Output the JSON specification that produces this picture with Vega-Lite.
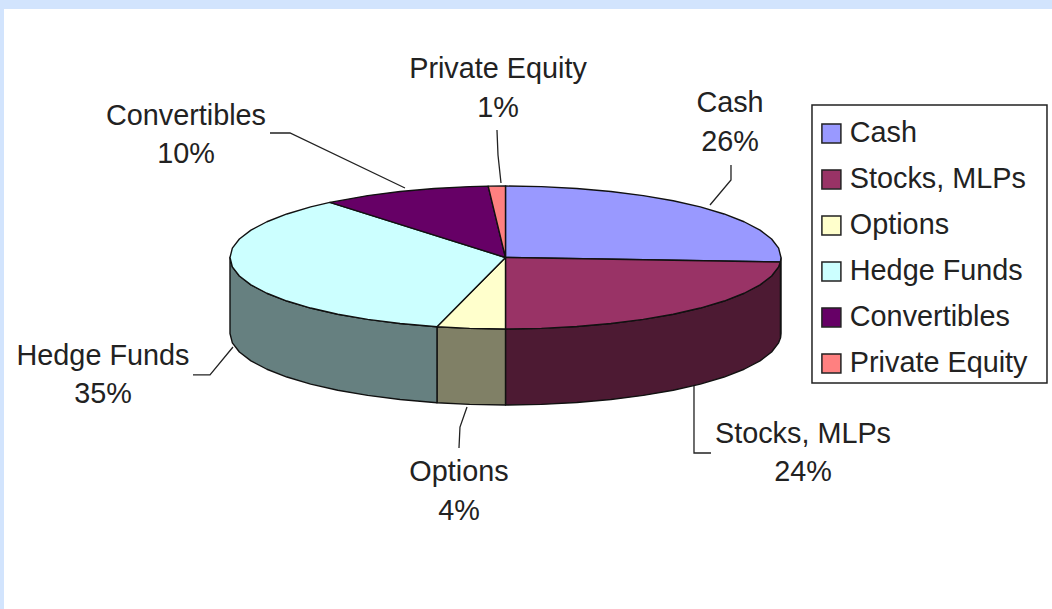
{"$schema":"https://vega.github.io/schema/vega-lite/v6.json","width":1048,"height":600,"autosize":"none","padding":{"left":4,"top":9,"right":0,"bottom":0},"background":"#d2e4fd","view":{"fill":"white","stroke":null},"config":{"font":"Liberation Sans"},
"datasets":{
"tops":[
{"slice":"Cash","i":0,"u":0,"v":0},{"slice":"Cash","i":1,"u":0,"v":1},{"slice":"Cash","i":2,"u":0.1305,"v":0.9914},{"slice":"Cash","i":3,"u":0.2588,"v":0.9659},{"slice":"Cash","i":4,"u":0.3827,"v":0.9239},{"slice":"Cash","i":5,"u":0.5,"v":0.866},{"slice":"Cash","i":6,"u":0.6088,"v":0.7934},{"slice":"Cash","i":7,"u":0.7071,"v":0.7071},{"slice":"Cash","i":8,"u":0.7934,"v":0.6088},{"slice":"Cash","i":9,"u":0.866,"v":0.5},{"slice":"Cash","i":10,"u":0.9239,"v":0.3827},{"slice":"Cash","i":11,"u":0.9659,"v":0.2588},{"slice":"Cash","i":12,"u":0.9914,"v":0.1305},{"slice":"Cash","i":13,"u":1,"v":0},{"slice":"Cash","i":14,"u":0.998,"v":-0.0628},{"slice":"Cash","i":15,"u":0,"v":0},
{"slice":"Stocks, MLPs","i":0,"u":0,"v":0},{"slice":"Stocks, MLPs","i":1,"u":0.998,"v":-0.0628},{"slice":"Stocks, MLPs","i":2,"u":0.9914,"v":-0.1305},{"slice":"Stocks, MLPs","i":3,"u":0.9659,"v":-0.2588},{"slice":"Stocks, MLPs","i":4,"u":0.9239,"v":-0.3827},{"slice":"Stocks, MLPs","i":5,"u":0.866,"v":-0.5},{"slice":"Stocks, MLPs","i":6,"u":0.7934,"v":-0.6088},{"slice":"Stocks, MLPs","i":7,"u":0.7071,"v":-0.7071},{"slice":"Stocks, MLPs","i":8,"u":0.6088,"v":-0.7934},{"slice":"Stocks, MLPs","i":9,"u":0.5,"v":-0.866},{"slice":"Stocks, MLPs","i":10,"u":0.3827,"v":-0.9239},{"slice":"Stocks, MLPs","i":11,"u":0.2588,"v":-0.9659},{"slice":"Stocks, MLPs","i":12,"u":0.1305,"v":-0.9914},{"slice":"Stocks, MLPs","i":13,"u":0,"v":-1},{"slice":"Stocks, MLPs","i":14,"u":0,"v":0},
{"slice":"Options","i":0,"u":0,"v":0},{"slice":"Options","i":1,"u":0,"v":-1},{"slice":"Options","i":2,"u":-0.1305,"v":-0.9914},{"slice":"Options","i":3,"u":-0.2487,"v":-0.9686},{"slice":"Options","i":4,"u":0,"v":0},
{"slice":"Hedge Funds","i":0,"u":0,"v":0},{"slice":"Hedge Funds","i":1,"u":-0.2487,"v":-0.9686},{"slice":"Hedge Funds","i":2,"u":-0.3827,"v":-0.9239},{"slice":"Hedge Funds","i":3,"u":-0.5,"v":-0.866},{"slice":"Hedge Funds","i":4,"u":-0.6088,"v":-0.7934},{"slice":"Hedge Funds","i":5,"u":-0.7071,"v":-0.7071},{"slice":"Hedge Funds","i":6,"u":-0.7934,"v":-0.6088},{"slice":"Hedge Funds","i":7,"u":-0.866,"v":-0.5},{"slice":"Hedge Funds","i":8,"u":-0.9239,"v":-0.3827},{"slice":"Hedge Funds","i":9,"u":-0.9659,"v":-0.2588},{"slice":"Hedge Funds","i":10,"u":-0.9914,"v":-0.1305},{"slice":"Hedge Funds","i":11,"u":-1,"v":0},{"slice":"Hedge Funds","i":12,"u":-0.9914,"v":0.1305},{"slice":"Hedge Funds","i":13,"u":-0.9659,"v":0.2588},{"slice":"Hedge Funds","i":14,"u":-0.9239,"v":0.3827},{"slice":"Hedge Funds","i":15,"u":-0.866,"v":0.5},{"slice":"Hedge Funds","i":16,"u":-0.7934,"v":0.6088},{"slice":"Hedge Funds","i":17,"u":-0.7071,"v":0.7071},{"slice":"Hedge Funds","i":18,"u":-0.6374,"v":0.7705},{"slice":"Hedge Funds","i":19,"u":0,"v":0},
{"slice":"Convertibles","i":0,"u":0,"v":0},{"slice":"Convertibles","i":1,"u":-0.6374,"v":0.7705},{"slice":"Convertibles","i":2,"u":-0.5,"v":0.866},{"slice":"Convertibles","i":3,"u":-0.3827,"v":0.9239},{"slice":"Convertibles","i":4,"u":-0.2588,"v":0.9659},{"slice":"Convertibles","i":5,"u":-0.1305,"v":0.9914},{"slice":"Convertibles","i":6,"u":-0.0628,"v":0.998},{"slice":"Convertibles","i":7,"u":0,"v":0},
{"slice":"Private Equity","i":0,"u":0,"v":0},{"slice":"Private Equity","i":1,"u":-0.0628,"v":0.998},{"slice":"Private Equity","i":2,"u":0,"v":1},{"slice":"Private Equity","i":3,"u":0,"v":0}
],
"sides":[
{"slice":"Cash","i":0,"u":1,"v":0},{"slice":"Cash","i":1,"u":0.998,"v":-0.0628},{"slice":"Cash","i":2,"u":0.998,"v":-1.1258},{"slice":"Cash","i":3,"u":1,"v":-1.063},{"slice":"Cash","i":4,"u":1,"v":0},
{"slice":"Stocks, MLPs","i":0,"u":0.998,"v":-0.0628},{"slice":"Stocks, MLPs","i":1,"u":0.9914,"v":-0.1305},{"slice":"Stocks, MLPs","i":2,"u":0.9659,"v":-0.2588},{"slice":"Stocks, MLPs","i":3,"u":0.9239,"v":-0.3827},{"slice":"Stocks, MLPs","i":4,"u":0.866,"v":-0.5},{"slice":"Stocks, MLPs","i":5,"u":0.7934,"v":-0.6088},{"slice":"Stocks, MLPs","i":6,"u":0.7071,"v":-0.7071},{"slice":"Stocks, MLPs","i":7,"u":0.6088,"v":-0.7934},{"slice":"Stocks, MLPs","i":8,"u":0.5,"v":-0.866},{"slice":"Stocks, MLPs","i":9,"u":0.3827,"v":-0.9239},{"slice":"Stocks, MLPs","i":10,"u":0.2588,"v":-0.9659},{"slice":"Stocks, MLPs","i":11,"u":0.1305,"v":-0.9914},{"slice":"Stocks, MLPs","i":12,"u":0,"v":-1},{"slice":"Stocks, MLPs","i":13,"u":0,"v":-2.063},{"slice":"Stocks, MLPs","i":14,"u":0.1305,"v":-2.0544},{"slice":"Stocks, MLPs","i":15,"u":0.2588,"v":-2.0289},{"slice":"Stocks, MLPs","i":16,"u":0.3827,"v":-1.9869},{"slice":"Stocks, MLPs","i":17,"u":0.5,"v":-1.929},{"slice":"Stocks, MLPs","i":18,"u":0.6088,"v":-1.8564},{"slice":"Stocks, MLPs","i":19,"u":0.7071,"v":-1.7701},{"slice":"Stocks, MLPs","i":20,"u":0.7934,"v":-1.6718},{"slice":"Stocks, MLPs","i":21,"u":0.866,"v":-1.563},{"slice":"Stocks, MLPs","i":22,"u":0.9239,"v":-1.4457},{"slice":"Stocks, MLPs","i":23,"u":0.9659,"v":-1.3218},{"slice":"Stocks, MLPs","i":24,"u":0.9914,"v":-1.1935},{"slice":"Stocks, MLPs","i":25,"u":0.998,"v":-1.1258},{"slice":"Stocks, MLPs","i":26,"u":0.998,"v":-0.0628},
{"slice":"Options","i":0,"u":0,"v":-1},{"slice":"Options","i":1,"u":-0.1305,"v":-0.9914},{"slice":"Options","i":2,"u":-0.2487,"v":-0.9686},{"slice":"Options","i":3,"u":-0.2487,"v":-2.0316},{"slice":"Options","i":4,"u":-0.1305,"v":-2.0544},{"slice":"Options","i":5,"u":0,"v":-2.063},{"slice":"Options","i":6,"u":0,"v":-1},
{"slice":"Hedge Funds","i":0,"u":-0.2487,"v":-0.9686},{"slice":"Hedge Funds","i":1,"u":-0.3827,"v":-0.9239},{"slice":"Hedge Funds","i":2,"u":-0.5,"v":-0.866},{"slice":"Hedge Funds","i":3,"u":-0.6088,"v":-0.7934},{"slice":"Hedge Funds","i":4,"u":-0.7071,"v":-0.7071},{"slice":"Hedge Funds","i":5,"u":-0.7934,"v":-0.6088},{"slice":"Hedge Funds","i":6,"u":-0.866,"v":-0.5},{"slice":"Hedge Funds","i":7,"u":-0.9239,"v":-0.3827},{"slice":"Hedge Funds","i":8,"u":-0.9659,"v":-0.2588},{"slice":"Hedge Funds","i":9,"u":-0.9914,"v":-0.1305},{"slice":"Hedge Funds","i":10,"u":-1,"v":0},{"slice":"Hedge Funds","i":11,"u":-1,"v":-1.063},{"slice":"Hedge Funds","i":12,"u":-0.9914,"v":-1.1935},{"slice":"Hedge Funds","i":13,"u":-0.9659,"v":-1.3218},{"slice":"Hedge Funds","i":14,"u":-0.9239,"v":-1.4457},{"slice":"Hedge Funds","i":15,"u":-0.866,"v":-1.563},{"slice":"Hedge Funds","i":16,"u":-0.7934,"v":-1.6718},{"slice":"Hedge Funds","i":17,"u":-0.7071,"v":-1.7701},{"slice":"Hedge Funds","i":18,"u":-0.6088,"v":-1.8564},{"slice":"Hedge Funds","i":19,"u":-0.5,"v":-1.929},{"slice":"Hedge Funds","i":20,"u":-0.3827,"v":-1.9869},{"slice":"Hedge Funds","i":21,"u":-0.2487,"v":-2.0316},{"slice":"Hedge Funds","i":22,"u":-0.2487,"v":-0.9686}
],
"leaders":[
{"slice":"Private Equity","i":0,"u":-0.0309,"v":1.783},{"slice":"Private Equity","i":1,"u":-0.0272,"v":1.434},{"slice":"Private Equity","i":2,"u":-0.0163,"v":1.042},
{"slice":"Cash","i":0,"u":0.8185,"v":1.294},{"slice":"Cash","i":1,"u":0.8185,"v":1.084},{"slice":"Cash","i":2,"u":0.7423,"v":0.734},
{"slice":"Convertibles","i":0,"u":-0.8548,"v":1.741},{"slice":"Convertibles","i":1,"u":-0.7822,"v":1.741},{"slice":"Convertibles","i":2,"u":-0.3648,"v":0.972},
{"slice":"Hedge Funds","i":0,"u":-1.1343,"v":-1.643},{"slice":"Hedge Funds","i":1,"u":-1.0726,"v":-1.643},{"slice":"Hedge Funds","i":2,"u":-0.9891,"v":-1.252},
{"slice":"Options","i":0,"u":-0.1688,"v":-2.664},{"slice":"Options","i":1,"u":-0.1652,"v":-2.371},{"slice":"Options","i":2,"u":-0.1397,"v":-2.091},
{"slice":"Stocks, MLPs","i":0,"u":0.7459,"v":-2.734},{"slice":"Stocks, MLPs","i":1,"u":0.6842,"v":-2.734},{"slice":"Stocks, MLPs","i":2,"u":0.6842,"v":-1.797}
],
"labels":[
{"slice":"Cash","share":26,"label":"Cash\n26%","u":0.8149,"v":2.157},
{"slice":"Stocks, MLPs","share":24,"label":"Stocks, MLPs\n24%","u":1.0799,"v":-2.465},
{"slice":"Options","share":4,"label":"Options\n4%","u":-0.1688,"v":-3.004},
{"slice":"Hedge Funds","share":35,"label":"Hedge Funds\n35%","u":-1.461,"v":-1.374},
{"slice":"Convertibles","share":10,"label":"Convertibles\n10%","u":-1.1597,"v":1.982},
{"slice":"Private Equity","share":1,"label":"Private Equity\n1%","u":-0.0272,"v":2.633}
],
"legendFrame":[{"u":1.1125,"u2":1.9655,"v":2.1329,"v2":-1.7552}]
},
"encoding":{
"x":{"field":"u","type":"quantitative","axis":null,"scale":{"domain":[-1.8203,1.9837],"nice":false,"zero":false}},
"y":{"field":"v","type":"quantitative","axis":null,"scale":{"domain":[-4.9161,3.4755],"nice":false,"zero":false}}},
"layer":[
{"data":{"name":"legendFrame"},"mark":{"type":"rect","fill":"white","stroke":"#222222","strokeWidth":1.5},
"encoding":{"x2":{"field":"u2"},"y2":{"field":"v2"}}},
{"data":{"name":"sides"},"mark":{"type":"line","stroke":"#111111","strokeWidth":1.4,"strokeJoin":"round"},
"encoding":{"order":{"field":"i","type":"quantitative"},"detail":{"field":"slice"},
"fill":{"field":"slice","type":"nominal","legend":null,"scale":{"domain":["Cash","Stocks, MLPs","Options","Hedge Funds"],"range":["#4d4d80","#4d1a33","#808066","#668080"]}}}},
{"data":{"name":"tops"},"mark":{"type":"line","stroke":"#111111","strokeWidth":1.4,"strokeJoin":"round"},
"encoding":{"order":{"field":"i","type":"quantitative"},"detail":{"field":"slice"},
"fill":{"field":"slice","type":"nominal","sort":null,"scale":{"domain":["Cash","Stocks, MLPs","Options","Hedge Funds","Convertibles","Private Equity"],"range":["#9999ff","#993366","#ffffcc","#ccffff","#660066","#ff8080"]},
"legend":{"title":null,"orient":"none","legendX":808,"legendY":105,"padding":5,"zindex":1,"symbolType":"square","symbolSize":361,"symbolStrokeColor":"#222222","symbolStrokeWidth":1.5,"labelFont":"Liberation Sans","labelFontSize":28.8,"labelColor":"#222222","labelOffset":4,"rowPadding":16,"labelLimit":300}}}},
{"data":{"name":"leaders"},"mark":{"type":"line","stroke":"#222222","strokeWidth":1.3},
"encoding":{"order":{"field":"i","type":"quantitative"},"detail":{"field":"slice"}}},
{"data":{"name":"labels"},"mark":{"type":"text","font":"Liberation Sans","fontSize":28.8,"lineHeight":38.5,"lineBreak":"\n","color":"#222222","align":"center","baseline":"middle"},
"encoding":{"text":{"field":"label"}}}
],
"resolve":{"scale":{"fill":"independent"}}}
